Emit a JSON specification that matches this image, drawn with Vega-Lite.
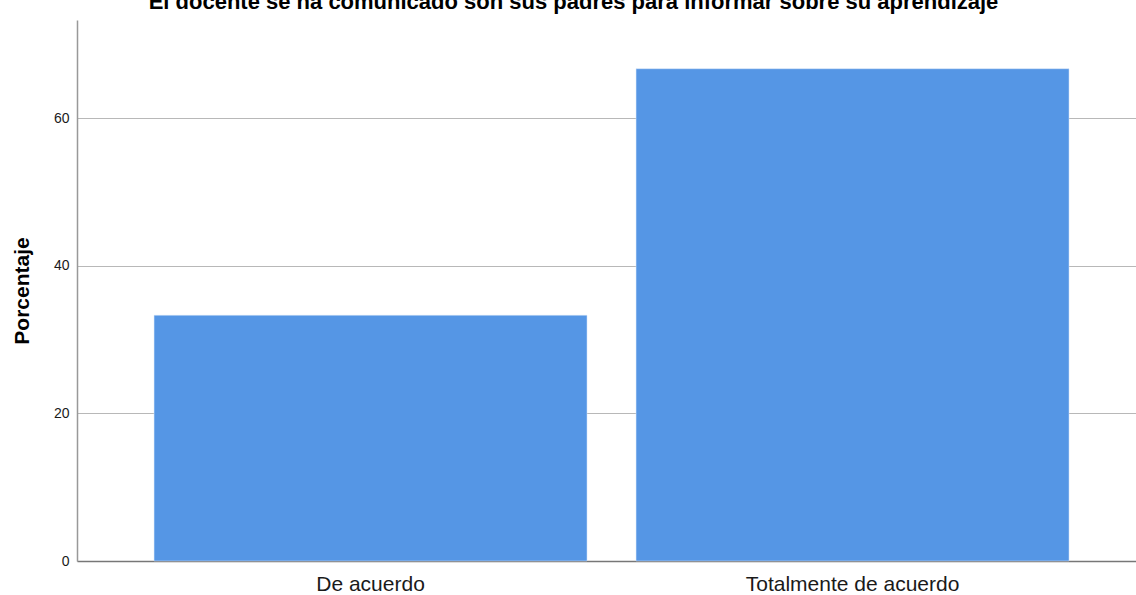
{
  "$schema": "https://vega.github.io/schema/vega-lite/v6.json",
  "autosize": {"type": "none"},
  "padding": {"left": 77, "top": 20, "right": 0, "bottom": 34},
  "width": 1059,
  "height": 541,
  "background": "white",
  "title": {
    "text": "El docente se ha comunicado son sus padres para informar sobre su aprendizaje",
    "font": "Liberation Sans",
    "fontSize": 22,
    "fontWeight": "bold",
    "color": "#000000",
    "anchor": "middle",
    "frame": "group",
    "baseline": "bottom",
    "offset": 8,
    "dx": -33,
    "dy": 24
  },
  "config": {
    "view": {"stroke": null},
    "font": "Liberation Sans"
  },
  "data": {
    "values": [
      {"categoria": "De acuerdo", "porcentaje": 33.3},
      {"categoria": "Totalmente de acuerdo", "porcentaje": 66.7}
    ]
  },
  "mark": {"type": "bar", "color": "#5596E5", "stroke": "#d8e6f8", "strokeWidth": 0.5},
  "encoding": {
    "x": {
      "field": "categoria",
      "type": "nominal",
      "sort": null,
      "title": null,
      "scale": {"paddingInner": 0.1017, "paddingOuter": 0.1494, "align": 0.535},
      "axis": {
        "labelAngle": 0,
        "labelFontSize": 21,
        "labelLimit": 0,
        "labelColor": "#1a1a1a",
        "labelPadding": 12,
        "ticks": false,
        "domainColor": "#777777",
        "domainWidth": 1.5,
        "grid": false
      }
    },
    "y": {
      "field": "porcentaje",
      "type": "quantitative",
      "title": "Porcentaje",
      "scale": {"domain": [0, 73.3], "nice": false},
      "axis": {
        "values": [0, 20, 40, 60],
        "ticks": false,
        "labelFontSize": 14,
        "labelColor": "#1a1a1a",
        "labelPadding": 8,
        "domainColor": "#999999",
        "domainWidth": 1.5,
        "gridColor": "#b8b8b8",
        "gridWidth": 1,
        "titleFontSize": 21,
        "titleFontWeight": "bold",
        "titleColor": "#000000",
        "titlePadding": 21
      }
    }
  }
}
